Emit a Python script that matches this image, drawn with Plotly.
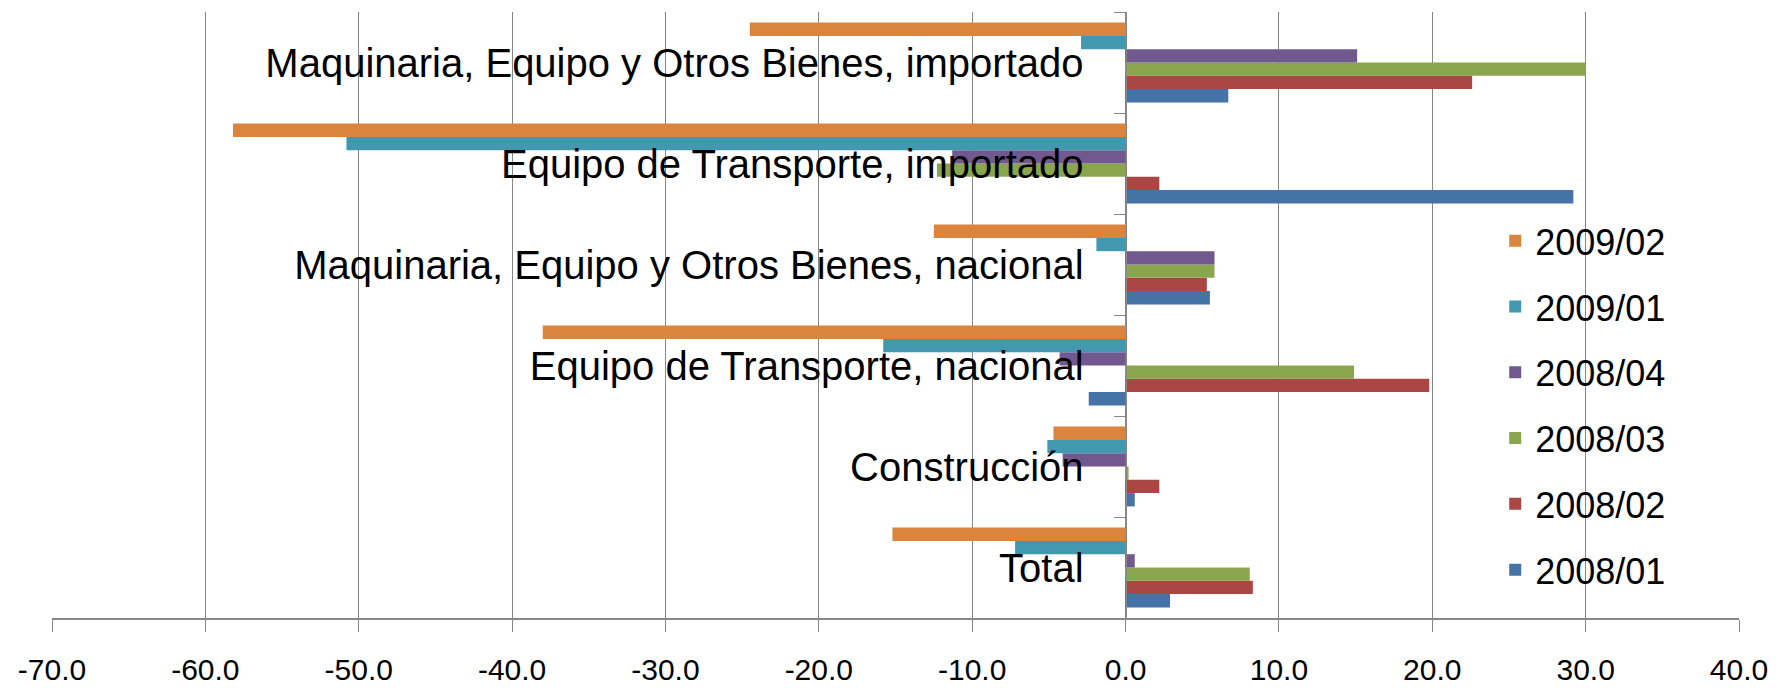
import plotly.graph_objects as go

categories = [
    "Total",
    "Construcción",
    "Equipo de Transporte, nacional",
    "Maquinaria, Equipo y Otros Bienes, nacional",
    "Equipo de Transporte, importado",
    "Maquinaria, Equipo y Otros Bienes, importado",
]

series_names = ["2008/01", "2008/02", "2008/03", "2008/04", "2009/01", "2009/02"]
v_2008_01 = [2.9, 0.6, -2.4, 5.5, 29.2, 6.7]
v_2008_02 = [8.3, 2.2, 19.8, 5.3, 2.2, 22.6]
v_2008_03 = [8.1, 0.2, 14.9, 5.8, -12.3, 30.0]
v_2008_04 = [0.6, -4.1, -4.3, 5.8, -11.3, 15.1]
v_2009_01 = [-7.2, -5.1, -15.8, -1.9, -50.8, -2.9]
v_2009_02 = [-15.2, -4.7, -38.0, -12.5, -58.2, -24.5]
series_values = [v_2008_01, v_2008_02, v_2008_03, v_2008_04, v_2009_01, v_2009_02]
colors = ["#4572A7", "#AA4643", "#89A54E", "#71588F", "#4198AF", "#DB843D"]

x_ticks = [-70, -60, -50, -40, -30, -20, -10, 0, 10, 20, 30, 40]
x_tick_labels = ["-70.0", "-60.0", "-50.0", "-40.0", "-30.0", "-20.0", "-10.0",
                 "0.0", "10.0", "20.0", "30.0", "40.0"]

FONT = "Liberation Sans, Arial, sans-serif"

fig = go.Figure()
n = len(series_names)
for i, (name, vals, col) in enumerate(zip(series_names, series_values, colors)):
    fig.add_trace(go.Bar(
        y=categories, x=vals, name=name, orientation="h",
        marker=dict(color=col, line=dict(width=0)),
        legendgroup=name, legendrank=(n - i) * 10,
    ))

xmin, xmax = -70, 40
fig.update_layout(
    width=1787, height=693,
    barmode="group", bargap=0.21, bargroupgap=0,
    paper_bgcolor="white", plot_bgcolor="white",
    margin=dict(l=44, r=56, t=4, b=83),
    font=dict(family=FONT, color="#000000"),
    showlegend=True,
    legend=dict(
        x=0.8555, y=0.672, xanchor="left", yanchor="top",
        traceorder="grouped", tracegroupgap=16,
        font=dict(size=36, family=FONT),
        bgcolor="rgba(0,0,0,0)",
    ),
    xaxis=dict(
        range=[xmin, xmax], tickvals=x_ticks, ticktext=x_tick_labels,
        showgrid=True, gridcolor="#878787", gridwidth=1,
        zeroline=False, automargin=False,
        showline=True, linecolor="#878787", linewidth=2,
        ticks="outside", ticklen=12, tickcolor="#878787",
        ticklabelstandoff=12,
        tickfont=dict(size=30, family=FONT),
        fixedrange=True,
    ),
    yaxis=dict(
        type="category", categoryorder="array", categoryarray=categories,
        anchor="free", position=(0 - xmin) / (xmax - xmin),
        showline=True, linecolor="#878787", linewidth=1,
        ticks="outside", ticklen=12, tickcolor="#878787",
        tickson="boundaries", showgrid=False, automargin=False,
        ticklabelstandoff=34,
        tickfont=dict(size=40, family=FONT),
        range=[-0.5, 5.5],
        fixedrange=True,
    ),
)

fig.write_html("out.html")
